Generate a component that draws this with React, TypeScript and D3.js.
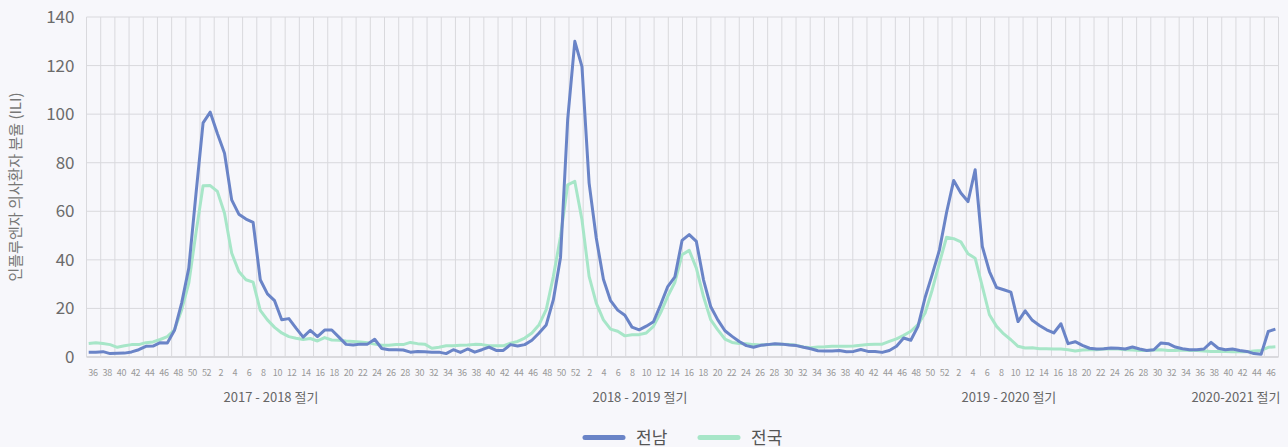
import React from "react";
import * as d3 from "d3";

// ---- data ----
const seasonNames = ["2017 - 2018 절기", "2018 - 2019 절기", "2019 - 2020 절기", "2020-2021 절기"];
const seasonSlots = [52, 52, 52, 12];
const seasonTickWeeks = [36, 38, 40, 42, 44, 46, 48, 50, 52, 2, 4, 6, 8, 10, 12, 14, 16, 18, 20, 22, 24, 26, 28, 30, 32, 34];
const lastSeasonTickWeeks = [36, 38, 40, 42, 44, 46];
const yTicks = [0, 20, 40, 60, 80, 100, 120, 140];

const seriesNames = ["전남", "전국"];

const jeonnam = [
  2.0, 2.0, 2.2, 1.4, 1.5, 1.6, 2.1, 3.0, 4.4, 4.5,
  5.9, 5.8, 11.0, 22.2, 36.6, 67.0, 96.4, 100.8, 92.0, 83.9,
  64.7, 58.8, 56.8, 55.4, 31.8, 26.0, 23.2, 15.3, 15.8, 11.9,
  8.2, 11.0, 8.4, 11.1, 11.1, 8.2, 5.2, 4.9, 5.3, 5.3,
  7.3, 3.5, 3.0, 3.0, 2.9, 2.0, 2.3, 2.2, 2.0, 2.0,
  1.4, 3.0, 1.9, 3.3, 2.0, 3.0, 4.1, 2.7, 2.7, 5.1,
  4.5, 5.1, 6.9, 9.9, 13.2, 23.6, 41.0, 97.7, 130.0, 119.6,
  71.6, 49.0, 32.0, 23.2, 19.3, 17.2, 12.3, 11.2, 12.7, 14.5,
  21.5, 29.0, 33.0, 48.0, 50.4, 47.6, 31.8, 20.8, 15.3, 10.8,
  8.5, 6.4, 4.7, 4.0, 4.8, 5.1, 5.5, 5.3, 4.9, 4.7,
  4.0, 3.4, 2.6, 2.5, 2.5, 2.7, 2.2, 2.3, 3.1, 2.3,
  2.3, 1.9, 2.7, 4.4, 7.8, 6.9, 12.6, 24.5, 34.0, 44.0,
  59.5, 72.7, 67.5, 64.0, 77.1, 45.5, 35.2, 28.6, 27.7, 26.7,
  14.6, 19.0, 15.1, 13.0, 11.2, 9.9, 13.7, 5.5, 6.3, 4.8,
  3.6, 3.3, 3.4, 3.7, 3.6, 3.3, 4.1, 3.3, 2.7, 3.0,
  5.8, 5.5, 4.1, 3.4, 3.0, 3.0, 3.3, 6.0, 3.6, 3.0,
  3.3, 2.7, 2.3, 1.4, 1.1, 10.5, 11.5,
];

const national = [
  5.6, 5.9, 5.6, 5.1, 4.0, 4.6, 5.1, 5.1, 5.9, 6.2,
  7.2, 8.4, 11.2, 19.4, 30.4, 51.0, 70.5, 70.6, 68.2, 59.2,
  42.8, 35.2, 31.8, 30.8, 19.2, 15.3, 12.2, 9.9, 8.4, 7.7,
  7.2, 7.6, 6.6, 8.0, 7.0, 6.9, 6.6, 6.4, 6.2, 5.9,
  5.3, 4.8, 4.8, 5.1, 5.1, 6.0, 5.5, 5.3, 3.6, 4.0,
  4.6, 4.6, 4.8, 4.9, 5.2, 5.1, 4.6, 4.6, 4.6, 5.7,
  6.4, 7.8, 9.9, 13.3, 19.5, 33.2, 49.6, 70.9, 72.3, 56.5,
  33.2, 22.2, 15.3, 11.5, 10.6, 8.7, 9.2, 9.2, 9.9, 12.6,
  18.2, 25.0, 30.8, 42.1, 43.9, 36.6, 24.9, 15.4, 11.2, 7.4,
  6.0, 5.6, 5.5, 5.1, 4.9, 5.1, 5.3, 5.2, 5.1, 4.8,
  4.1, 3.8, 4.1, 4.2, 4.4, 4.4, 4.4, 4.5, 4.8, 5.1,
  5.3, 5.3, 6.4, 7.5, 8.9, 10.6, 13.3, 18.1, 27.7, 38.7,
  49.3, 48.7, 47.4, 42.5, 40.7, 29.1, 17.4, 12.6, 9.5, 7.1,
  4.4, 3.7, 3.8, 3.4, 3.4, 3.3, 3.3, 3.0, 2.5, 2.9,
  3.0, 3.0, 3.3, 3.4, 3.3, 3.0, 2.9, 2.7, 2.7, 2.9,
  3.0, 2.7, 2.7, 2.9, 2.7, 2.7, 2.5, 2.3, 2.3, 2.3,
  2.2, 2.2, 2.2, 2.5, 2.7, 4.0, 4.2,
];

// ---- layout / style ----
const W = 1288;
const H = 447;
const plotLeft = 86.5;
const plotRight = 1278.5;
const plotTop = 17;
const plotBottom = 357;
const BG = "#f7f7fb";
const GRID = "#d9d9dd";
const BLUE = "#6a84c7";
const GREEN = "#a7e6c8";
const FONT = "'Noto Sans CJK KR', 'Noto Sans', sans-serif";

export default function App() {
  const totalSlots = d3.sum(seasonSlots);
  const slotScale = d3
    .scaleBand<number>()
    .domain(d3.range(totalSlots))
    .range([plotLeft, plotRight])
    .paddingInner(0)
    .paddingOuter(0);
  const bw = slotScale.bandwidth();

  const xData = d3
    .scalePoint<number>()
    .domain(d3.range(jeonnam.length))
    .range([plotLeft + 2.2, plotRight - 3.1]);

  const y = d3.scaleLinear().domain([0, 140]).range([plotBottom, plotTop]);

  const line = d3
    .line<number>()
    .x((_, i) => xData(i) as number)
    .y((d) => y(d));

  const vLines: number[] = [];
  for (let s = 0; s <= totalSlots; s += 2) {
    vLines.push(s < totalSlots ? (slotScale(s) as number) : plotRight);
  }

  const ticks: { x: number; label: number }[] = [];
  let start = 0;
  seasonSlots.forEach((len, si) => {
    const tw = si === seasonSlots.length - 1 ? lastSeasonTickWeeks : seasonTickWeeks;
    tw.forEach((w, k) => {
      const slot = start + 2 * k;
      ticks.push({ x: (slotScale(slot) as number) + bw / 2 + 3, label: w });
    });
    start += len;
  });

  const seasonLabels: { x: number; label: string }[] = [];
  start = 0;
  seasonSlots.forEach((len, si) => {
    seasonLabels.push({ x: plotLeft + bw * (start + len / 2), label: seasonNames[si] });
    start += len;
  });

  const legendItems = [
    { name: seriesNames[0], color: BLUE, x: 583 },
    { name: seriesNames[1], color: GREEN, x: 698 },
  ];

  return (
    <svg
      width={W}
      height={H}
      style={{ position: "absolute", left: 0, top: 0, display: "block" }}
      fontFamily={FONT}
    >
      <rect x={0} y={0} width={W} height={H} fill={BG} />
      {yTicks.map((t) => (
        <line
          key={"h" + t}
          x1={plotLeft}
          x2={plotRight}
          y1={y(t)}
          y2={y(t)}
          stroke={t === 0 ? "#cfcfd3" : GRID}
          strokeWidth={t === 0 ? 1.5 : 1}
        />
      ))}
      {vLines.map((x, i) => (
        <line key={"v" + i} x1={x} x2={x} y1={plotTop} y2={plotBottom} stroke={GRID} strokeWidth={1} />
      ))}
      {yTicks.map((t) => (
        <text
          key={"yt" + t}
          x={74.5}
          y={y(t)}
          dy="0.35em"
          textAnchor="end"
          fontSize={17}
          fill="#6b6b6b"
        >
          {t}
        </text>
      ))}
      <text
        transform={`translate(21, ${(plotTop + plotBottom) / 2}) rotate(-90)`}
        textAnchor="middle"
        fontSize={15}
        fill="#777"
      >
        인플루엔자 의사환자 분율 (ILI)
      </text>
      {ticks.map((t, i) => (
        <text key={"xt" + i} x={t.x} y={376} textAnchor="middle" fontSize={9} fill="#999" letterSpacing={-0.3}>
          {t.label}
        </text>
      ))}
      {seasonLabels.map((s, i) => (
        <text key={"s" + i} x={s.x} y={402} textAnchor="middle" fontSize={13} fill="#666">
          {s.label}
        </text>
      ))}
      <path d={line(national) || ""} fill="none" stroke={GREEN} strokeWidth={3} strokeLinejoin="round" />
      <path d={line(jeonnam) || ""} fill="none" stroke={BLUE} strokeWidth={3} strokeLinejoin="round" />
      {legendItems.map((l) => (
        <g key={l.name}>
          <line x1={l.x + 2} x2={l.x + 40} y1={437.5} y2={437.5} stroke={l.color} strokeWidth={5} strokeLinecap="round" />
          <text x={l.x + 53} y={443.5} fontSize={17} fill="#555">
            {l.name}
          </text>
        </g>
      ))}
    </svg>
  );
}
